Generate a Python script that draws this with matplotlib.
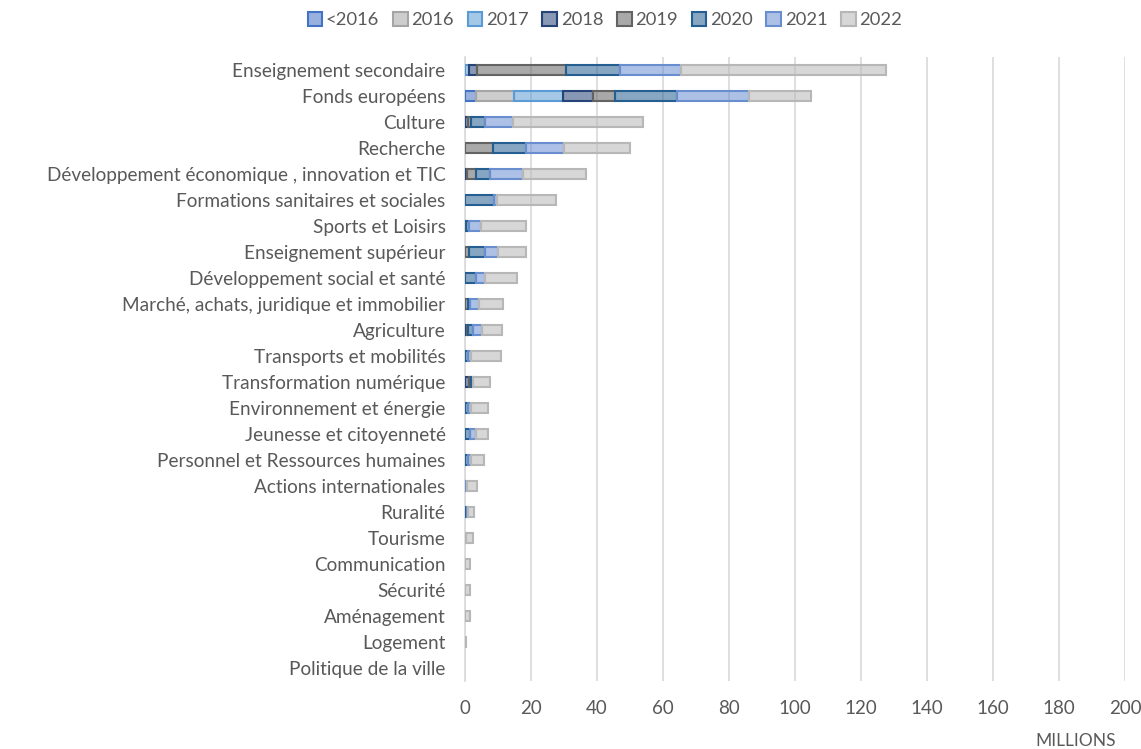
import matplotlib.pyplot as plt
from matplotlib.colors import to_rgba
import numpy as np

plt.rcParams['font.family'] = ['Lato', 'DejaVu Sans']

categories = ["Enseignement secondaire", "Fonds européens", "Culture", "Recherche",
              "Développement économique , innovation et TIC",
              "Formations sanitaires et sociales", "Sports et Loisirs",
              "Enseignement supérieur", "Développement social et santé",
              "Marché, achats, juridique et immobilier", "Agriculture",
              "Transports et mobilités", "Transformation numérique",
              "Environnement et énergie", "Jeunesse et citoyenneté",
              "Personnel et Ressources humaines", "Actions internationales",
              "Ruralité", "Tourisme", "Communication", "Sécurité",
              "Aménagement", "Logement", "Politique de la ville"]

series = ["<2016", "2016", "2017", "2018", "2019", "2020", "2021", "2022"]

# values in millions, one list per year, same order as categories
v_pre2016 = [0, 3.2, 0, 0, 0, 0, 0.3, 0, 0, 0, 0, 0, 0, 0, 0, 0, 0, 0, 0, 0, 0, 0, 0, 0]
v_2016 = [0, 11.7, 0, 0, 0, 0, 0, 0, 0, 0, 0, 0, 0, 0, 0, 0, 0, 0, 0, 0, 0, 0, 0, 0]
v_2017 = [1.2, 14.9, 0, 0, 0, 0, 0, 0, 0, 0, 0, 0, 0, 0, 0, 0, 0, 0, 0, 0, 0, 0, 0, 0]
v_2018 = [2.4, 8.9, 1.0, 0, 0.5, 0, 0, 0, 0, 0, 0.6, 0, 1.2, 0, 0, 0, 0, 0, 0, 0, 0, 0, 0, 0]
v_2019 = [27.0, 6.8, 0.7, 8.4, 2.9, 0, 0, 1.3, 0, 0.8, 0.3, 0, 0.6, 0, 0, 0, 0, 0, 0, 0, 0, 0, 0, 0]
v_2020 = [16.4, 18.7, 4.4, 10.2, 4.1, 8.7, 1.0, 4.9, 3.4, 0.7, 1.6, 1.0, 0.5, 1.0, 1.5, 1.0, 0, 0.5, 0, 0, 0, 0, 0, 0]
v_2021 = [18.5, 22.0, 8.4, 11.3, 10.0, 1.0, 3.5, 3.9, 2.7, 2.8, 2.7, 0.8, 0, 0.8, 1.9, 0.7, 0.6, 0.5, 0.4, 0, 0, 0, 0, 0]
v_2022 = [62.0, 18.6, 39.3, 20.0, 19.2, 17.8, 13.6, 8.3, 9.6, 7.1, 6.0, 9.0, 5.3, 5.3, 3.7, 4.2, 2.9, 1.8, 1.9, 1.5, 1.5, 1.5, 0.3, 0]

colors = ["#4472C4", "#A5A5A5", "#5B9BD5", "#264478", "#636363", "#255E91", "#698ED0", "#B7B7B7"]

data = [v_pre2016, v_2016, v_2017, v_2018, v_2019, v_2020, v_2021, v_2022]

fig = plt.figure(figsize=(11.41, 7.49), dpi=100)
ax = fig.add_axes([465/1141, 68/749, 660/1141, 624/749])

y = np.arange(len(categories))
left = np.zeros(len(categories))
for name, vals, c in zip(series, data, colors):
    vals = np.array(vals, dtype=float)
    m = vals > 0
    ax.barh(y[m], vals[m], left=left[m], height=0.42, color=to_rgba(c, 0.55),
            edgecolor=c, linewidth=1.5, label=name, zorder=3)
    left += vals

ax.set_xlim(0, 200)
ax.set_ylim(len(categories) - 0.5, -0.5)
ax.set_xticks(np.arange(0, 201, 20))
ax.set_yticks(y)
ax.set_yticklabels(categories)
ax.tick_params(axis='y', length=0, pad=14, labelsize=13.7, labelcolor="#595959")
ax.tick_params(axis='x', length=0, pad=14, labelsize=13.5, labelcolor="#595959")
ax.grid(axis='x', color="#D9D9D9", linewidth=1.2, zorder=0)
for s in ["top", "right", "bottom"]:
    ax.spines[s].set_visible(False)
ax.spines["left"].set_color("#D9D9D9")
ax.spines["left"].set_linewidth(1.2)

fig.text(1076/1141, 1 - 741/749, "MILLIONS", ha="center", va="center",
         fontsize=12.5, color="#595959")

leg = fig.legend(loc="center", bbox_to_anchor=(605/1141, 1 - 20/749), ncol=8,
                 frameon=False, fontsize=13.2, handlelength=0.8, handleheight=0.8,
                 handletextpad=0.2, columnspacing=0.75)
for t in leg.get_texts():
    t.set_color("#595959")

fig.savefig("out.png", dpi=100)
